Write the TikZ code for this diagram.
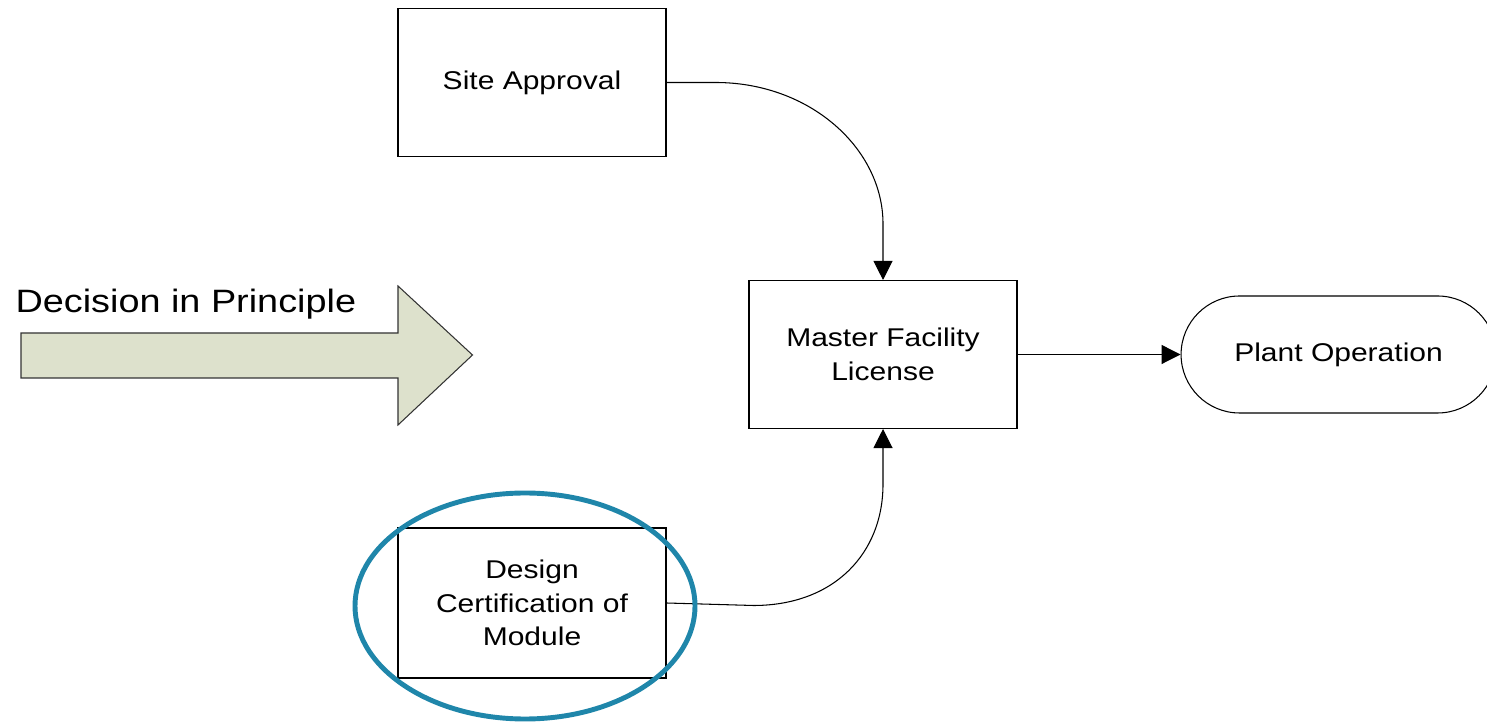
\documentclass[tikz,border=0pt]{standalone}
\usepackage{fontspec}
\setmainfont{Liberation Sans}[FakeStretch=1.17]
\usetikzlibrary{arrows.meta,positioning,calc}
\definecolor{ringblue}{RGB}{31,134,170}
\definecolor{arrowfill}{RGB}{221,225,204}

\begin{document}
\begin{tikzpicture}[line width=0.6pt,
	box/.style={draw,minimum width=5.36cm,minimum height=2.96cm,align=center,
		font=\fontsize{14.6}{19}\selectfont},
	flow/.style={-{Triangle[length=0.38cm,width=0.38cm]}}]
	   \useasboundingbox (0,0) rectangle (29.74,14.44);
	   \node[box] (sa) at (10.64,12.79) {Site Approval};
	   \node[box] (mfl) at (17.66,7.35) {Master Facility\\License};
	   \node[box,minimum height=3cm] (dcm) at (10.64,2.38) {Design\\Certification of\\Module};
	   \node[box,rounded corners=1.17cm,minimum width=6.3cm,minimum height=2.34cm]
			[right=3.26cm of mfl] (po) {Plant Operation};
	   % big arrow
	   \draw[fill=arrowfill,draw=black!80] (0.42,7.78) -- (7.96,7.78) -- (7.96,8.72)
			-- (9.45,7.34) -- (7.96,5.94) -- (7.96,6.88) -- (0.42,6.88) -- cycle;
	   \node[anchor=base west,inner sep=0,font=\fontsize{18.4}{22}\selectfont]
			(dip) at (0.3,8.18) {Decision in Principle};
	   \draw[flow] (sa.east) -- ++(0.98,0) .. controls +(1.9,0) and +(0,1.5)
			.. ($(mfl.north)+(0,1.12)$) -- (mfl.north);
	   \draw[flow] (dcm.east) -- ++(1.74,-0.05) .. controls +(1.6,0) and +(0,-1.4)
			.. ($(mfl.south)+(0,-1.1)$) -- (mfl.south);
	   \draw[flow] (mfl) -- (po);
	   % highlight
	   \draw[ringblue,line width=2.8pt] (10.5,2.32) ellipse [x radius=3.4cm,y radius=2.26cm];
	\end{tikzpicture}
\end{document}
